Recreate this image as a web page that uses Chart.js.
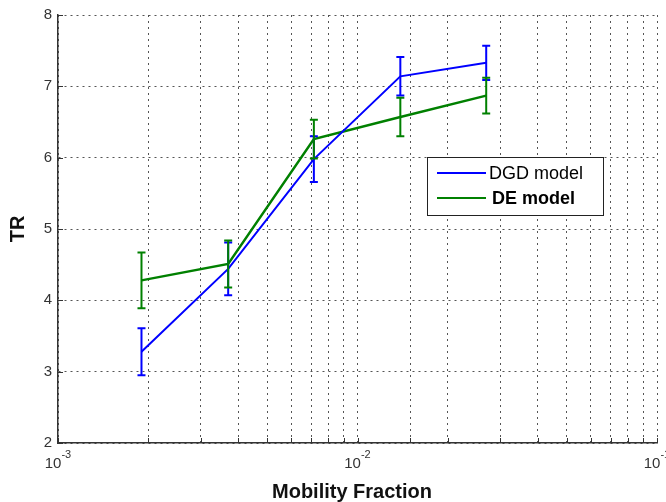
<!DOCTYPE html>
<html>
  <head>
    <title>TR vs Mobility Fraction</title>
    <style>
      html, body { margin: 0; padding: 0; background: #fff; }
      #wrap { width: 666px; height: 502px; }
    </style>
  </head>
  <body>
    <div id="wrap">
      <canvas id="canvas" width="666" height="502"></canvas>
    </div>
    <script src="https://cdn.jsdelivr.net/npm/chart.js@4"></script>
    <script>
      const fractions = [0.0019, 0.0037, 0.00715, 0.0139, 0.0269];
      const dgdValues = [3.28, 4.44, 5.98, 7.14, 7.33];
      const dgdErrors = [0.33, 0.37, 0.32, 0.27, 0.24];
      const deValues = [4.28, 4.51, 6.26, 6.57, 6.87];
      const deErrors = [0.39, 0.33, 0.27, 0.27, 0.25];
      const xTickLabels = [
        { value: 0.001, base: "10", exp: "-3" },
        { value: 0.01, base: "10", exp: "-2" },
        { value: 0.1, base: "10", exp: "-1" }
      ];

      const FONT = "'Liberation Sans', Arial, sans-serif";

      // vertical error bars with caps, same colour as each line
      const errorBars = {
        id: "errorBars",
        afterDatasetsDraw(chart) {
          const ctx = chart.ctx;
          const xs = chart.scales.x, ys = chart.scales.y;
          chart.data.datasets.forEach((ds) => {
            ctx.save();
            ctx.strokeStyle = ds.borderColor;
            ctx.lineWidth = 2;
            ds.data.forEach((p, i) => {
              const e = ds.errors[i];
              const px = xs.getPixelForValue(p.x);
              const top = ys.getPixelForValue(p.y + e);
              const bot = ys.getPixelForValue(p.y - e);
              ctx.beginPath();
              ctx.moveTo(px, top); ctx.lineTo(px, bot);
              ctx.moveTo(px - 4, top); ctx.lineTo(px + 4, top);
              ctx.moveTo(px - 4, bot); ctx.lineTo(px + 4, bot);
              ctx.stroke();
            });
            ctx.restore();
          });
        }
      };

      // inward tick marks, exponent tick labels, x title and boxed legend
      const decorations = {
        id: "decorations",
        afterDraw(chart) {
          const ctx = chart.ctx;
          const xs = chart.scales.x, ys = chart.scales.y;
          const a = chart.chartArea;
          ctx.save();
          ctx.strokeStyle = "#333";
          ctx.lineWidth = 1;
          ctx.beginPath();
          xs.ticks.forEach((t) => {
            const px = Math.round(xs.getPixelForValue(t.value)) + 0.5;
            ctx.moveTo(px, a.bottom); ctx.lineTo(px, a.bottom - 5);
          });
          ys.ticks.forEach((t) => {
            const py = Math.round(ys.getPixelForValue(t.value)) + 0.5;
            ctx.moveTo(a.left, py); ctx.lineTo(a.left + 5, py);
          });
          ctx.stroke();

          ctx.fillStyle = "#333";
          ctx.textBaseline = "alphabetic";
          xTickLabels.forEach((l) => {
            const px = xs.getPixelForValue(l.value);
            ctx.font = "15px " + FONT;
            const wb = ctx.measureText(l.base).width;
            ctx.font = "11px " + FONT;
            const we = ctx.measureText(l.exp).width;
            const x0 = px - (wb + we) / 2;
            ctx.font = "15px " + FONT;
            ctx.textAlign = "left";
            ctx.fillText(l.base, x0, a.bottom + 25);
            ctx.font = "11px " + FONT;
            ctx.fillText(l.exp, x0 + wb, a.bottom + 15);
          });

          ctx.fillStyle = "#111";
          ctx.font = "bold 20px " + FONT;
          ctx.textAlign = "center";
          ctx.fillText("Mobility Fraction", 352, 498);

          // legend
          const lx = 427.5, ly = 157.5, lw = 176, lh = 58;
          ctx.fillStyle = "#fff";
          ctx.fillRect(lx, ly, lw, lh);
          ctx.strokeStyle = "#222";
          ctx.lineWidth = 1;
          ctx.strokeRect(lx, ly, lw, lh);
          const rows = [
            { y: 173, weight: "", tx: 489 },
            { y: 198, weight: "bold ", tx: 492 }
          ];
          chart.data.datasets.forEach((ds, i) => {
            const r = rows[i];
            ctx.strokeStyle = ds.borderColor;
            ctx.lineWidth = 2;
            ctx.beginPath();
            ctx.moveTo(437, r.y); ctx.lineTo(486, r.y);
            ctx.stroke();
            ctx.fillStyle = "#000";
            ctx.font = r.weight + "18px " + FONT;
            ctx.textAlign = "left";
            ctx.textBaseline = "middle";
            ctx.fillText(ds.label, r.tx, r.y + 1);
          });
          ctx.restore();
        }
      };

      new Chart(document.getElementById("canvas").getContext("2d"), {
        type: "line",
        data: {
          datasets: [
            {
              label: "DGD model",
              data: fractions.map((x, i) => ({ x: x, y: dgdValues[i] })),
              errors: dgdErrors,
              borderColor: "#0000ff",
              borderWidth: 2,
              pointRadius: 0,
              tension: 0
            },
            {
              label: "DE model",
              data: fractions.map((x, i) => ({ x: x, y: deValues[i] })),
              errors: deErrors,
              borderColor: "#008000",
              borderWidth: 2.5,
              pointRadius: 0,
              tension: 0
            }
          ]
        },
        options: {
          responsive: false,
          animation: false,
          layout: { padding: { top: 13, right: 9, left: 0, bottom: 0 } },
          plugins: {
            legend: { display: false },
            tooltip: { enabled: false }
          },
          scales: {
            x: {
              type: "logarithmic",
              min: 0.001,
              max: 0.1,
              afterFit: (s) => { s.height = 59; },
              ticks: { display: false },
              grid: { color: "#555", lineWidth: 1, drawTicks: false },
              border: { display: true, color: "#333", width: 1.5, dash: [2, 4] }
            },
            y: {
              min: 2,
              max: 8,
              afterFit: (s) => { s.width = 58; },
              ticks: {
                stepSize: 1,
                color: "#333",
                padding: 6,
                font: { family: FONT, size: 15 }
              },
              title: {
                display: true,
                text: "TR",
                color: "#111",
                padding: { top: 6, bottom: 0 },
                font: { family: FONT, size: 20, weight: "bold" }
              },
              grid: { color: "#555", lineWidth: 1, drawTicks: false },
              border: { display: true, color: "#333", width: 1.5, dash: [2, 4] }
            }
          }
        },
        plugins: [errorBars, decorations]
      });
    </script>
  </body>
</html>
